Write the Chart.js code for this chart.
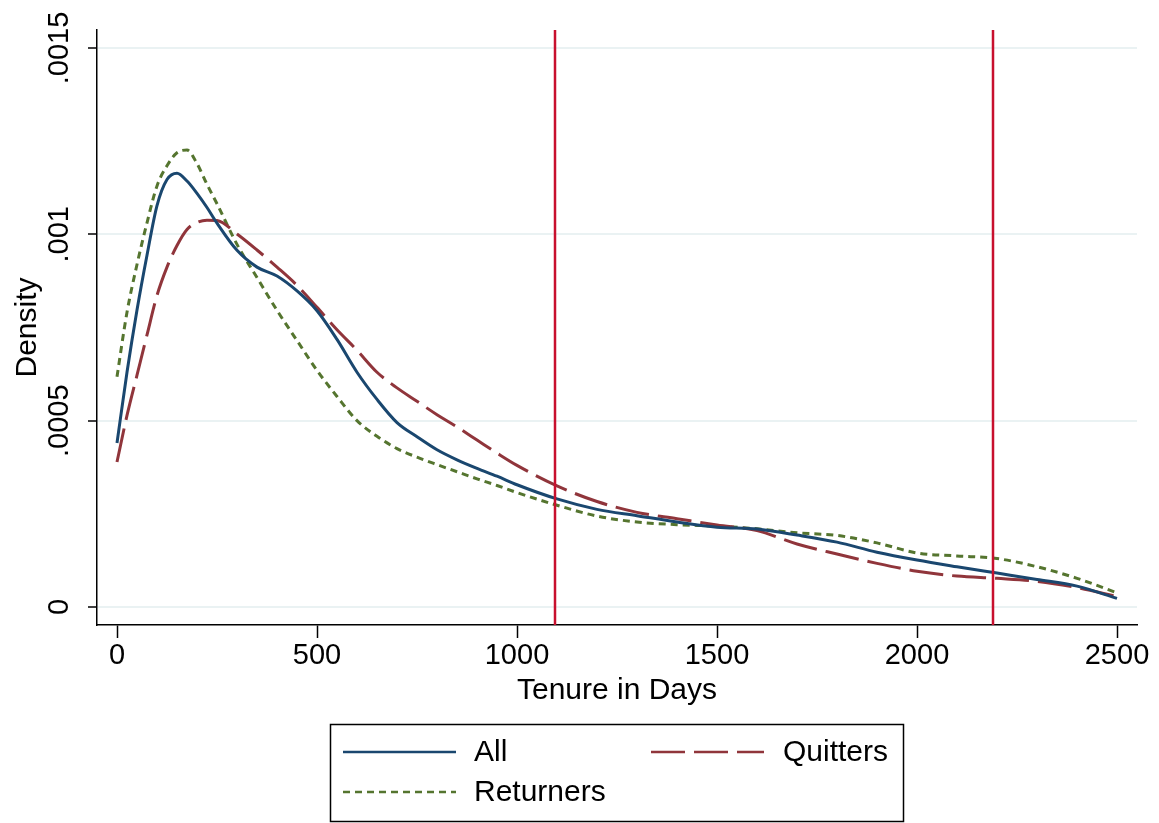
<!DOCTYPE html>
<html>
<head>
<meta charset="utf-8">
<script src="https://cdn.jsdelivr.net/npm/chart.js@4"></script>
<style>
  body { margin: 0; background: #fff; }
  #wrap { width: 1159px; height: 823px; }
</style>
</head>
<body>
<div id="wrap"><canvas id="densityChart" width="1159" height="823"></canvas></div>
<script>
var FONT = "'Liberation Sans', Arial, Helvetica, sans-serif";

var days = [0, 25, 50, 75, 100, 125, 150, 175, 200, 225, 250, 300, 350, 400, 450, 500, 550, 600, 650, 700,
            750, 800, 850, 900, 950, 1000, 1100, 1200, 1300, 1400, 1500, 1600, 1700, 1800, 1900, 2000,
            2100, 2200, 2300, 2400, 2500];

var allDensity = [0.00044, 0.00063, 0.000797, 0.000944, 0.001077, 0.001147, 0.001164, 0.001143, 0.00111, 0.001072,
                  0.00103, 0.000957, 0.000912, 0.000888, 0.000848, 0.000795, 0.000718, 0.00063, 0.000557, 0.000495,
                  0.000457, 0.000422, 0.000395, 0.000372, 0.000351, 0.000328, 0.00029, 0.000262, 0.000245, 0.000228,
                  0.000214, 0.000209, 0.000193, 0.000174, 0.000147, 0.000126, 0.000108, 0.000091, 0.000074, 0.000056,
                  0.000023];

var quitDensity = [0.000389, 0.000514, 0.000622, 0.00073, 0.000836, 0.000912, 0.00097, 0.001013, 0.001032, 0.001038,
                   0.001037, 0.001001, 0.000958, 0.000912, 0.000863, 0.000804, 0.000744, 0.000689, 0.00063, 0.000588,
                   0.000552, 0.000516, 0.000483, 0.000448, 0.000413, 0.00038, 0.000325, 0.000283, 0.000254, 0.000237,
                   0.00022, 0.000205, 0.000169, 0.000142, 0.000117, 0.000096, 0.000083, 0.000077, 0.000069, 0.000052,
                   0.000028];

var returnDensity = [0.000618, 0.000791, 0.000919, 0.001031, 0.00113, 0.001184, 0.001219, 0.001226, 0.00119, 0.001134,
                     0.001082, 0.000973, 0.000884, 0.000796, 0.000715, 0.000635, 0.000565, 0.0005, 0.000458, 0.000425,
                     0.000402, 0.000382, 0.000363, 0.000344, 0.000326, 0.000307, 0.000273, 0.000244, 0.000228, 0.000221,
                     0.000217, 0.00021, 0.000199, 0.000192, 0.000172, 0.000145, 0.000137, 0.00013, 0.000108, 0.000077,
                     0.000038];

var xTicks = [0, 500, 1000, 1500, 2000, 2500];
var yTicks = [0, 0.0005, 0.001, 0.0015];
var yTickLabels = ['0', '.0005', '.001', '.0015'];
var cutoffs = [1095, 2190];

function pts(ys) {
    return days.map(function (d, i) { return { x: d, y: ys[i] }; });
}

// red vertical reference lines
var cutoffLines = {
    id: 'cutoffLines',
    afterDatasetsDraw: function (chart) {
        var ctx = chart.ctx, area = chart.chartArea, xs = chart.scales.x;
        ctx.save();
        ctx.strokeStyle = '#c8102e';
        ctx.lineWidth = 2.5;
        cutoffs.forEach(function (c) {
            var px = Math.round(xs.getPixelForValue(c));
            ctx.beginPath();
            ctx.moveTo(px, area.top);
            ctx.lineTo(px, area.bottom);
            ctx.stroke();
        });
        ctx.restore();
    }
};

// rotated y tick labels, stata style
var yLabels = {
    id: 'yLabels',
    afterDraw: function (chart) {
        var ctx = chart.ctx, ys = chart.scales.y;
        ctx.save();
        ctx.fillStyle = '#000';
        ctx.font = '29px ' + FONT;
        ctx.textAlign = 'center';
        ctx.textBaseline = 'alphabetic';
        yTicks.forEach(function (v, i) {
            ctx.save();
            ctx.translate(68, ys.getPixelForValue(v));
            ctx.rotate(-Math.PI / 2);
            ctx.fillText(yTickLabels[i], 0, 0);
            ctx.restore();
        });
        ctx.restore();
    }
};

// boxed legend below the axis title
var boxLegend = {
    id: 'boxLegend',
    afterDraw: function (chart) {
        var ctx = chart.ctx;
        var ds = chart.data.datasets;
        var items = [
            { d: ds[0], lx: 343, tx: 474, y: 752 },
            { d: ds[1], lx: 651, tx: 783, y: 752 },
            { d: ds[2], lx: 343, tx: 474, y: 792 }
        ];
        ctx.save();
        ctx.strokeStyle = '#000';
        ctx.lineWidth = 1.5;
        ctx.strokeRect(330.5, 724.5, 573, 97);
        ctx.font = '30px ' + FONT;
        ctx.fillStyle = '#000';
        ctx.textBaseline = 'middle';
        ctx.textAlign = 'left';
        items.forEach(function (it) {
            ctx.save();
            ctx.strokeStyle = it.d.borderColor;
            ctx.lineWidth = 2.5;
            ctx.setLineDash(it.d.borderDash || []);
            ctx.beginPath();
            ctx.moveTo(it.lx, it.y);
            ctx.lineTo(it.lx + 113, it.y);
            ctx.stroke();
            ctx.restore();
            ctx.fillText(it.d.label, it.tx, it.y + 1);
        });
        ctx.restore();
    }
};

var ctx = document.getElementById('densityChart').getContext('2d');
var myChart = new Chart(ctx, {
    type: 'line',
    data: {
        datasets: [{
            label: 'All',
            data: pts(allDensity),
            borderColor: '#1a476f',
            borderWidth: 3,
            borderDash: []
        }, {
            label: 'Quitters',
            data: pts(quitDensity),
            borderColor: '#90353b',
            borderWidth: 3,
            borderDash: [34, 9]
        }, {
            label: 'Returners',
            data: pts(returnDensity),
            borderColor: '#55752f',
            borderWidth: 3,
            borderDash: [7, 5]
        }]
    },
    options: {
        responsive: false,
        animation: false,
        devicePixelRatio: 1,
        layout: { padding: { top: 30, right: 22, bottom: 110, left: 0 } },
        elements: {
            point: { radius: 0 },
            line: { tension: 0.4, cubicInterpolationMode: 'monotone', fill: false }
        },
        plugins: {
            legend: { display: false },
            tooltip: { enabled: false }
        },
        scales: {
            x: {
                type: 'linear',
                min: -50,
                max: 2550,
                afterBuildTicks: function (s) { s.ticks = xTicks.map(function (v) { return { value: v }; }); },
                afterFit: function (s) { s.height = 88; },
                border: { display: true, color: '#000', width: 1.5 },
                grid: { drawOnChartArea: false, tickLength: 13, tickColor: '#000', tickWidth: 1.5 },
                ticks: {
                    color: '#000',
                    padding: 3.5,
                    maxRotation: 0,
                    font: { family: FONT, size: 29, lineHeight: 1 },
                    callback: function (v) { return String(v); }
                },
                title: {
                    display: true,
                    text: 'Tenure in Days',
                    color: '#000',
                    font: { family: FONT, size: 30, lineHeight: 1 },
                    padding: { top: 0, bottom: 7.5 }
                }
            },
            y: {
                type: 'linear',
                min: -0.0000483,
                max: 0.0015483,
                afterBuildTicks: function (s) { s.ticks = yTicks.map(function (v) { return { value: v }; }); },
                afterFit: function (s) { s.width = 97; },
                border: { display: true, color: '#000', width: 1.5 },
                grid: { color: '#eaf2f3', lineWidth: 2, tickLength: 9, tickColor: '#000', tickWidth: 1.5 },
                ticks: { display: false },
                title: {
                    display: true,
                    text: 'Density',
                    color: '#000',
                    font: { family: FONT, size: 30, lineHeight: 1 },
                    padding: { top: 12.5, bottom: 0 }
                }
            }
        }
    },
    plugins: [cutoffLines, yLabels, boxLegend]
});
</script>
</body>
</html>
